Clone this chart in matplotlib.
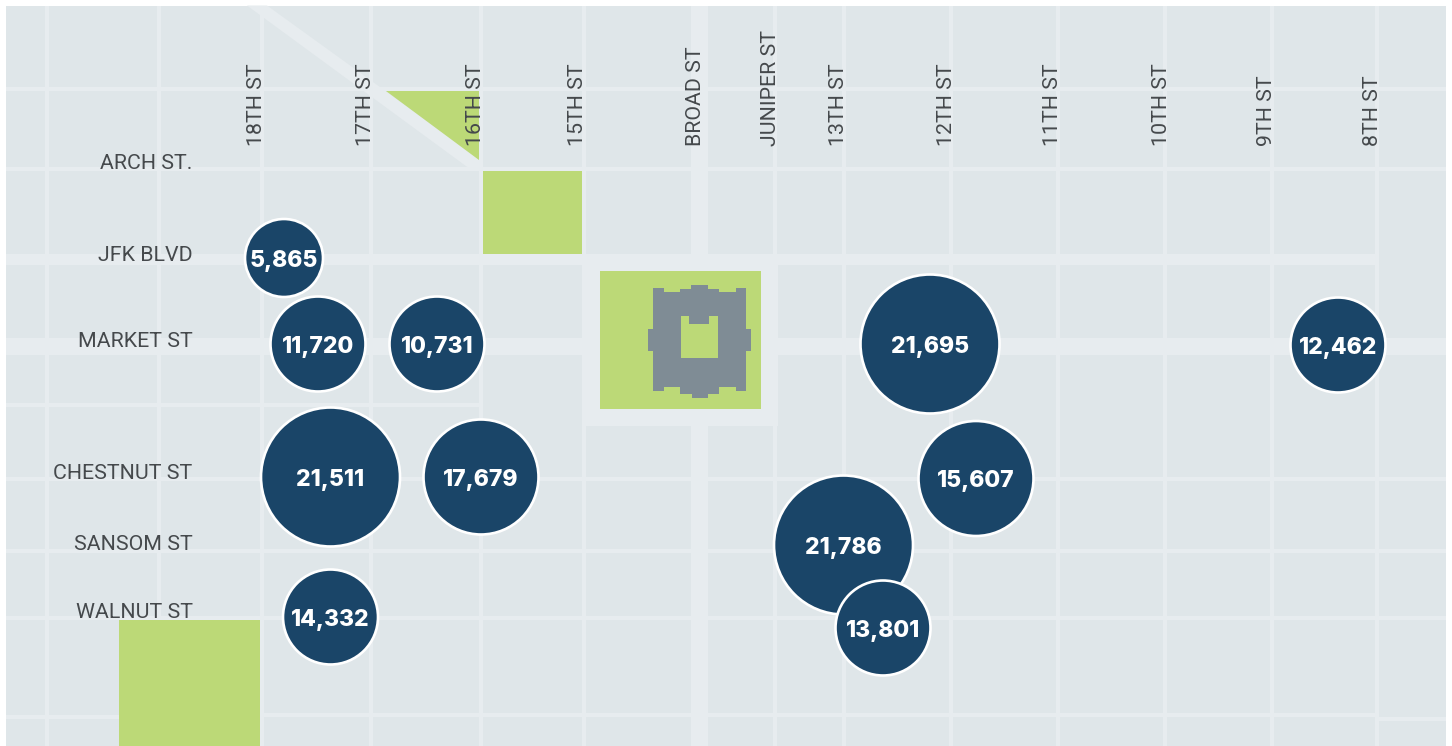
import matplotlib
matplotlib.use('Agg')
import matplotlib.pyplot as plt
from matplotlib.patches import Circle, Polygon, Rectangle

# Bubble values and where they sit on the map (pixels of the map image)
valores = [5865, 11720, 10731, 21695, 12462, 21511, 17679, 15607, 21786, 13801, 14332]
bolha_x = [284, 318, 437, 930, 1338, 330.5, 481, 976, 843.5, 883, 330.5]
bolha_y = [258, 344, 344, 344, 345, 477, 477, 478.5, 545, 628, 617]

# Street names
ruas_h = ['ARCH ST.', 'JFK BLVD', 'MARKET ST', 'CHESTNUT ST', 'SANSOM ST', 'WALNUT ST']
ruas_h_y = [169, 261, 347, 479, 550, 618]
ruas_v = ['18TH ST', '17TH ST', '16TH ST', '15TH ST', 'BROAD ST', 'JUNIPER ST',
          '13TH ST', '12TH ST', '11TH ST', '10TH ST', '9TH ST', '8TH ST']
ruas_v_x = [262, 371, 481, 583, 701, 776, 844, 952, 1058, 1167, 1272, 1378]

# Thin streets of the grid
grade_x = [47, 159, 262, 370.5, 481, 584, 775, 844, 951, 1058, 1165, 1272, 1377]
grade_y = [89, 169, 479, 551, 618]

COR_QUADRA = '#dfe6e9'
COR_RUA = '#e7ecef'
COR_PARQUE = '#bcd977'
COR_PREDIO = '#7f8c95'
COR_BOLHA = '#1a4568'
COR_TEXTO = '#45494c'


def raio_bolha(valor):
    # the bubbles come in four size classes
    if valor < 10000:
        return 39
    if valor < 15000:
        return 47.5
    if valor < 20000:
        return 57.5
    return 69.5


def retangulo(ax, x0, y0, x1, y1, cor, z=1):
    ax.add_patch(Rectangle((x0, y0), x1 - x0, y1 - y0, facecolor=cor, edgecolor='none', zorder=z))


fig = plt.figure(figsize=(14.52, 7.46), dpi=100, facecolor='white')
ax = fig.add_axes([0, 0, 1, 1])
ax.set_xlim(0, 1452)
ax.set_ylim(746, 0)
ax.axis('off')

# Map base
retangulo(ax, 6, 5.5, 1446, 746, COR_QUADRA)

for x in grade_x:
    retangulo(ax, x - 2, 5.5, x + 2, 746, COR_RUA, 2)
for y in grade_y:
    retangulo(ax, 6, y - 2, 1446, y + 2, COR_RUA, 2)

# Streets that do not cross the whole map
retangulo(ax, 6, 403, 481, 407, COR_RUA, 2)
retangulo(ax, 6, 715, 161, 719, COR_RUA, 2)
retangulo(ax, 261, 713, 1377, 717, COR_RUA, 2)
retangulo(ax, 1377, 717, 1446, 721, COR_RUA, 2)

# Wide streets
retangulo(ax, 691, 5.5, 708, 746, COR_RUA, 2)
retangulo(ax, 6, 254, 1377, 265, COR_RUA, 2)
retangulo(ax, 6, 338, 1446, 355, COR_RUA, 2)
retangulo(ax, 582, 254, 778, 426, COR_RUA, 2)

# Diagonal street
ax.add_patch(Polygon([(247, 5.5), (267, 5.5), (481, 160), (481, 169), (470, 169)],
                     closed=True, facecolor=COR_RUA, edgecolor='none', zorder=2))

# Parks
ax.add_patch(Polygon([(386, 91), (479, 91), (479, 160)], closed=True,
                     facecolor=COR_PARQUE, edgecolor='none', zorder=3))
retangulo(ax, 483, 171, 582, 254, COR_PARQUE, 3)
retangulo(ax, 119, 620, 260, 746, COR_PARQUE, 3)
retangulo(ax, 600, 270.5, 761, 409, COR_PARQUE, 3)

# City Hall
predio = [(279, 114), (312, 114), (312, 126), (361, 126), (361, 116), (394, 116), (394, 105),
          (443, 105), (443, 116), (478, 116), (478, 126), (527, 126), (527, 114), (559, 114),
          (559, 237), (574, 237), (574, 304), (559, 304), (559, 424), (527, 424), (527, 412),
          (477, 412), (477, 432), (443, 432), (443, 444), (397, 444), (397, 432), (361, 432),
          (361, 412), (312, 412), (312, 424), (279, 424), (279, 304), (264, 304), (264, 237),
          (279, 237)]
patio = [(363, 197), (388, 197), (388, 221), (448, 221), (448, 197), (475, 197), (475, 324), (363, 324)]
ax.add_patch(Polygon([(560 + x / 3, 250 + y / 3) for x, y in predio], closed=True,
                     facecolor=COR_PREDIO, edgecolor='none', zorder=4))
ax.add_patch(Polygon([(560 + x / 3, 250 + y / 3) for x, y in patio], closed=True,
                     facecolor=COR_PARQUE, edgecolor='none', zorder=5))

# Street labels
for nome, y in zip(ruas_h, ruas_h_y):
    ax.text(192.5, y, nome, ha='right', va='baseline', fontsize=15.4, family='Roboto',
            fontweight='normal', color=COR_TEXTO, zorder=6)
for nome, x in zip(ruas_v, ruas_v_x):
    ax.text(x, 146.5, nome, ha='left', va='baseline', rotation=90, rotation_mode='anchor',
            fontsize=15.4, family='Roboto', fontweight='normal', color=COR_TEXTO, zorder=6)

# Bubbles
for i, valor in enumerate(valores):
    ax.add_patch(Circle((bolha_x[i], bolha_y[i]), raio_bolha(valor), facecolor=COR_BOLHA,
                        edgecolor='white', linewidth=1.9, zorder=7 + i * 0.01))
    ax.text(bolha_x[i], bolha_y[i] + 0.5, f'{valor:,}', ha='center', va='center_baseline', fontsize=16.5,
            family='Inter', fontweight=800, color='white', zorder=7.5 + i * 0.01)

plt.savefig('out.png', dpi=100, facecolor='white')
